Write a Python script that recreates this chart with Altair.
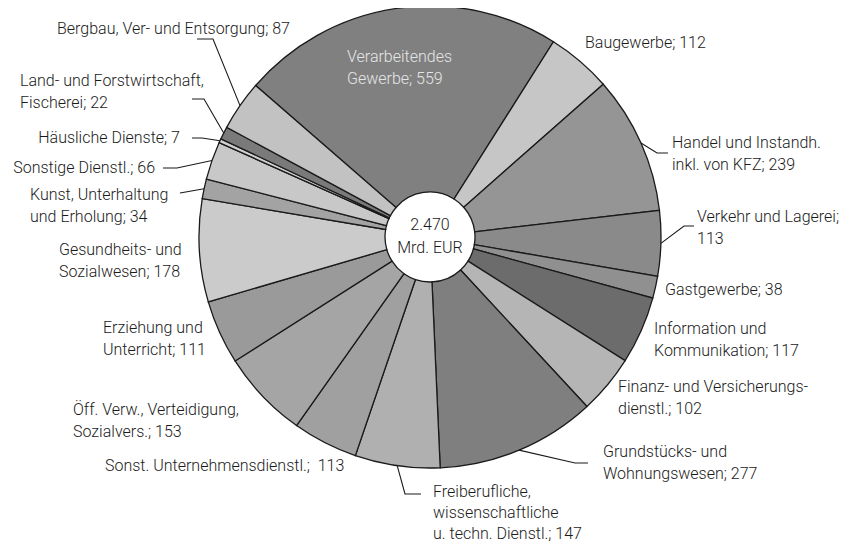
import math
import altair as alt
import pandas as pd

# ---------------- data ----------------
categories = [
    "Verarbeitendes Gewerbe", "Baugewerbe", "Handel und Instandh. inkl. von KFZ",
    "Verkehr und Lagerei", "Gastgewerbe", "Information und Kommunikation",
    "Finanz- und Versicherungsdienstl.", "Grundstücks- und Wohnungswesen",
    "Freiberufliche, wissenschaftliche u. techn. Dienstl.",
    "Sonst. Unternehmensdienstl.", "Öff. Verw., Verteidigung, Sozialvers.",
    "Erziehung und Unterricht", "Gesundheits- und Sozialwesen",
    "Kunst, Unterhaltung und Erholung", "Sonstige Dienstl.", "Häusliche Dienste",
    "Land- und Forstwirtschaft, Fischerei", "Bergbau, Ver- und Entsorgung",
]
values = [559, 112, 239, 113, 38, 117, 102, 277, 147, 113, 153, 111, 178, 34, 66, 7, 22, 87]
label_lines = [
    ["Verarbeitendes", "Gewerbe; {}"],
    ["Baugewerbe; {}"],
    ["Handel und Instandh.", "inkl. von KFZ; {}"],
    ["Verkehr und Lagerei;", "{}"],
    ["Gastgewerbe; {}"],
    ["Information und", "Kommunikation; {}"],
    ["Finanz- und Versicherungs-", "dienstl.; {}"],
    ["Grundstücks- und", "Wohnungswesen; {}"],
    ["Freiberufliche,", "wissenschaftliche", "u. techn. Dienstl.; {}"],
    ["Sonst. Unternehmensdienstl.;\u00a0\u00a0{}"],
    ["Öff. Verw., Verteidigung,", "Sozialvers.; {}"],
    ["Erziehung und", "Unterricht; {}"],
    ["Gesundheits- und", "Sozialwesen; {}"],
    ["Kunst, Unterhaltung", "und Erholung; {}"],
    ["Sonstige Dienstl.; {}"],
    ["Häusliche Dienste; {}"],
    ["Land- und Forstwirtschaft,", "Fischerei; {}"],
    ["Bergbau, Ver- und Entsorgung; {}"],
]
center_lines = ["2.470", "Mrd. EUR"]

# ---------------- styles / layout (page pixel coordinates) ----------------
fill_greys = [
    "#808080", "#c6c6c6", "#959595", "#8a8a8a", "#909090", "#6c6c6c",
    "#b5b5b5", "#7f7f7f", "#b0b0b0", "#a0a0a0", "#a5a5a5", "#9a9a9a",
    "#cbcbcb", "#a3a3a3", "#c8c8c8", "#d0d0d0", "#7a7a7a", "#c2c2c2",
]
FONT = "Roboto"
FW = 300
FS = 16
LH = 22
TXT = "#1a1a1a"
CX, CY, R_OUT, R_IN = 430, 237, 231, 45
START_DEG = -49
M = 8
W, H = 832, 536

label_anchor = [  # x, y (centre of first line), align, line spacing
    (347, 57, "left", LH), (585, 43, "left", LH), (672, 143, "left", LH),
    (697, 217, "left", LH), (665, 290, "left", LH), (654, 329, "left", LH),
    (618, 387, "left", LH), (603, 452, "left", LH), (433, 492, "left", 21),
    (105, 466, "left", LH), (73, 410, "left", LH), (103, 328, "left", LH),
    (59, 250, "left", LH), (30, 195, "left", LH), (155, 168, "right", LH),
    (180, 138, "right", LH), (20, 81, "left", LH), (57, 29, "left", LH),
]
label_colors = ["#e6e6e6"] + [TXT] * 17
leader_bends = {
    2: [(657, 153), (668, 153)],
    3: [(684, 226), (694, 226)],
    7: [(575, 463), (588, 463)],
    8: [(405, 494), (421, 494)],
    13: [(180, 193)],
    14: [(177, 168), (163, 168)],
    15: [(202, 138), (192, 138)],
    16: [(204, 99), (192, 99)],
    17: [(213, 39), (197, 39)],
}

# ---------------- tables ----------------
total = sum(values)
pie_df = pd.DataFrame({"cat": categories, "value": values, "idx": range(len(values))})

text_rows = []
for i, lines in enumerate(label_lines):
    x0, y0, al, lh = label_anchor[i]
    for j, ln in enumerate(lines):
        text_rows.append({"x": x0, "y": y0 + j * lh, "t": ln.format(values[i]),
                          "align": al, "col": label_colors[i]})
for j, ln in enumerate(center_lines):
    text_rows.append({"x": CX, "y": CY - 12 + j * 23, "t": ln, "align": "center", "col": TXT})
text_df = pd.DataFrame(text_rows)

line_rows = []
cum = 0
for i, v in enumerate(values):
    mid = math.radians(START_DEG + (cum + v / 2) / total * 360)
    cum += v
    if i in leader_bends:
        pts = [(CX + R_OUT * math.sin(mid), CY - R_OUT * math.cos(mid))] + leader_bends[i]
        for k, (px, py) in enumerate(pts):
            line_rows.append({"cat": categories[i], "k": k, "x": px, "y": py})
line_df = pd.DataFrame(line_rows)

xs = alt.Scale(domain=[M, M + W], range=[0, W])
ys = alt.Scale(domain=[M, M + H], range=[0, H])
a0 = math.radians(START_DEG)

pie = alt.Chart(pie_df).mark_arc(
    outerRadius=R_OUT, innerRadius=R_IN, stroke="#1a1a1a", strokeWidth=1.3
).encode(
    theta=alt.Theta("value:Q", stack=True, scale=alt.Scale(range=[a0, a0 + 2 * math.pi])),
    color=alt.Color("cat:N", scale=alt.Scale(domain=categories, range=fill_greys), legend=None),
    order=alt.Order("idx:Q", sort="ascending"),
    x=alt.value(CX - M),
    y=alt.value(CY - M),
)

leaders = alt.Chart(line_df).mark_line(color="#1a1a1a", strokeWidth=1.1).encode(
    x=alt.X("x:Q", scale=xs, axis=None),
    y=alt.Y("y:Q", scale=ys, axis=None),
    detail="cat:N",
    order="k:Q",
)

def text_layer(al):
    return alt.Chart(text_df).transform_filter(alt.datum.align == al).mark_text(
        font=FONT, fontSize=FS, fontWeight=FW, align=al, baseline="middle"
    ).encode(
        x=alt.X("x:Q", scale=xs, axis=None),
        y=alt.Y("y:Q", scale=ys, axis=None),
        text="t:N",
        color=alt.Color("col:N", scale=None),
    )

chart = alt.layer(
    pie, leaders, text_layer("left"), text_layer("right"), text_layer("center")
).properties(
    width=W, height=H, padding=0, autosize=alt.AutoSizeParams(type="none")
).configure_view(stroke=None, fill=None)

chart.save("out.html", embed_options={"renderer": "svg", "actions": False})
